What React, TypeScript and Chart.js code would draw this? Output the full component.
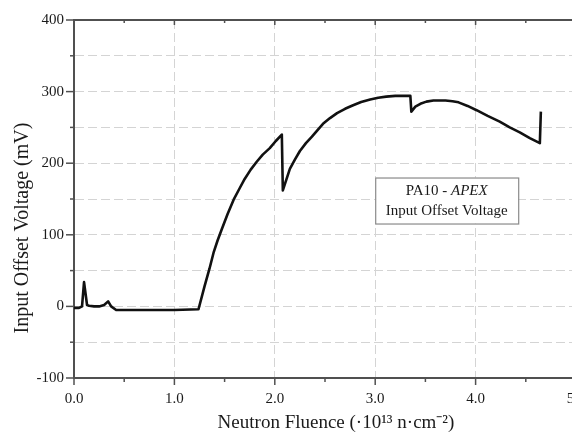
import React, { useEffect, useRef } from 'react';
import { Chart, registerables } from 'chart.js';

Chart.register(...registerables);

// ---- data ----
const fluence = [
  0.0, 0.05, 0.08, 0.1, 0.13, 0.15, 0.2, 0.25, 0.3, 0.34, 0.37, 0.42, 0.6, 0.8, 1.0, 1.24,
  1.3, 1.35, 1.39, 1.43, 1.47, 1.53, 1.59, 1.65, 1.7, 1.76, 1.82, 1.88, 1.95, 2.01, 2.07,
  2.08, 2.15, 2.2, 2.25, 2.31, 2.37, 2.43, 2.48, 2.55, 2.62, 2.7, 2.78, 2.86, 2.95, 3.03,
  3.11, 3.2, 3.35, 3.36, 3.4, 3.45, 3.51, 3.58, 3.7, 3.77, 3.83, 3.92, 4.01, 4.12, 4.24,
  4.34, 4.44, 4.54, 4.64, 4.65,
];
const offsetVoltage = [
  -2, -2, 0, 34, 2, 1, 0, 0, 2, 7, 0, -5, -5, -5, -5, -4,
  28, 53, 75, 92, 107, 129, 149, 165, 178, 191, 202, 212, 221, 231, 240,
  162, 192, 205, 217, 228, 237, 247, 255, 263, 270, 276, 281, 285.5, 289, 291.5,
  293, 294, 294, 272, 279, 283, 286, 287.5, 287.5, 286.5, 285, 280, 274, 266, 258,
  250, 243, 235, 228, 272,
];
const xMin = 0;
const xMax = 5;
const xStep = 1;
const yMin = -100;
const yMax = 400;
const yStep = 50;
const yLabelStep = 100;
const xTitle = 'Neutron Fluence (·10¹³ n·cm⁻²)';
const yTitle = 'Input Offset Voltage (mV)';
const boxTextA = 'PA10 - ';
const boxTextB = 'APEX';
const boxText2 = 'Input Offset Voltage';

const SERIF = "'Liberation Serif', 'Times New Roman', serif";
const AXIS_COLOR = '#505050';
const GRID_COLOR = '#d4d4d4';
const TEXT_COLOR = '#1a1a1a';

const decorPlugin = {
  id: 'decor',
  afterDatasetsDraw(chart: any) {
    const { ctx, chartArea: a, scales } = chart;
    const xs = scales.x;
    const ys = scales.y;
    const line = (x1: number, y1: number, x2: number, y2: number) => {
      ctx.beginPath();
      ctx.moveTo(x1, y1);
      ctx.lineTo(x2, y2);
      ctx.stroke();
    };
    ctx.save();
    ctx.strokeStyle = AXIS_COLOR;
    // top frame line
    ctx.lineWidth = 2;
    line(a.left - 1, a.top, a.right + 20, a.top);
    // x ticks (bottom outward, top inward) incl. minor midpoints
    ctx.lineWidth = 1.5;
    const xt = xs.ticks.map((t: any) => t.value);
    xt.forEach((v: number, i: number) => {
      const px = xs.getPixelForValue(v);
      line(px, a.bottom, px, a.bottom + 7);
      line(px, a.top, px, a.top + 5);
      if (i < xt.length - 1) {
        const pm = xs.getPixelForValue((v + xt[i + 1]) / 2);
        line(pm, a.bottom, pm, a.bottom + 4);
        line(pm, a.top, pm, a.top + 3);
      }
    });
    // y ticks (left outward)
    ys.ticks.forEach((t: any) => {
      const py = ys.getPixelForValue(t.value);
      const major = t.value % yLabelStep === 0;
      line(a.left - (major ? 8 : 4), py, a.left, py);
    });

    // annotation box
    const bl = xs.getPixelForValue(3.0);
    const bt = ys.getPixelForValue(180);
    const bw = 143;
    const bh = 46;
    ctx.fillStyle = '#ffffff';
    ctx.fillRect(bl, bt, bw, bh);
    ctx.strokeStyle = '#8a8a8a';
    ctx.lineWidth = 1.2;
    ctx.strokeRect(bl + 0.5, bt + 0.5, bw, bh);
    ctx.fillStyle = TEXT_COLOR;
    ctx.textBaseline = 'middle';
    ctx.textAlign = 'left';
    const fReg = `15px ${SERIF}`;
    const fIt = `italic 15px ${SERIF}`;
    ctx.font = fReg;
    const wA = ctx.measureText(boxTextA).width;
    ctx.font = fIt;
    const wB = ctx.measureText(boxTextB).width;
    const cx = bl + bw / 2;
    const sx = cx - (wA + wB) / 2;
    ctx.font = fReg;
    ctx.fillText(boxTextA, sx, bt + 14);
    ctx.font = fIt;
    ctx.fillText(boxTextB, sx + wA, bt + 14);
    ctx.font = fReg;
    ctx.textAlign = 'center';
    ctx.fillText(boxText2, cx, bt + 34);

    // axis titles
    ctx.font = `19px ${SERIF}`;
    ctx.textAlign = 'center';
    ctx.textBaseline = 'middle';
    ctx.fillText(xTitle, (a.left + a.right) / 2 + 11, a.bottom + 45);
    ctx.save();
    ctx.translate(a.left - 51, (a.top + a.bottom) / 2 + 29);
    ctx.rotate(-Math.PI / 2);
    ctx.font = `20px ${SERIF}`;
    ctx.fillText(yTitle, 0, 0);
    ctx.restore();
    ctx.restore();
  },
};

export default function App() {
  const ref = useRef<HTMLCanvasElement | null>(null);
  useEffect(() => {
    if (!ref.current) return;
    const points = fluence.map((x, i) => ({ x, y: offsetVoltage[i] }));
    const chart = new Chart(ref.current, {
      type: 'line',
      data: {
        datasets: [
          {
            label: 'PA10 - APEX Input Offset Voltage',
            data: points,
            borderColor: '#111111',
            borderWidth: 2.6,
            pointRadius: 0,
            tension: 0,
            borderJoinStyle: 'round',
            fill: false,
          },
        ],
      },
      options: {
        animation: false,
        responsive: false,
        devicePixelRatio: 1,
        layout: { padding: { top: 20, right: 24, bottom: 0, left: 0 } },
        plugins: { legend: { display: false }, tooltip: { enabled: false } },
        scales: {
          x: {
            type: 'linear',
            min: xMin,
            max: xMax,
            afterFit: (s: any) => {
              s.height = 54;
            },
            ticks: {
              stepSize: xStep,
              color: TEXT_COLOR,
              font: { family: SERIF, size: 15 },
              padding: 12,
              maxRotation: 0,
              callback: (v: any) => Number(v).toFixed(1),
            },
            grid: {
              drawTicks: false,
              lineWidth: 1,
              color: (c: any) => (c.tick && c.tick.value === xMin ? 'rgba(0,0,0,0)' : GRID_COLOR),
            },
            border: { display: true, color: AXIS_COLOR, width: 2, dash: [9, 4] },
            title: { display: false, text: xTitle },
          },
          y: {
            type: 'linear',
            min: yMin,
            max: yMax,
            afterFit: (s: any) => {
              s.width = 74;
            },
            ticks: {
              stepSize: yStep,
              color: TEXT_COLOR,
              font: { family: SERIF, size: 15 },
              padding: 10,
              callback: (v: any) => (Number(v) % yLabelStep === 0 ? String(v) : ''),
            },
            grid: {
              drawTicks: false,
              lineWidth: 1,
              color: (c: any) =>
                c.tick && (c.tick.value === yMin || c.tick.value === yMax) ? 'rgba(0,0,0,0)' : GRID_COLOR,
            },
            border: { display: true, color: AXIS_COLOR, width: 2, dash: [9, 4] },
            title: { display: false, text: yTitle },
          },
        },
      },
      plugins: [decorPlugin],
    });
    return () => chart.destroy();
  }, []);

  return (
    <div
      style={{
        position: 'fixed',
        left: 0,
        top: 0,
        width: 572,
        height: 432,
        overflow: 'hidden',
        background: '#ffffff',
      }}
    >
      <canvas ref={ref} width={600} height={432} style={{ display: 'block' }} />
    </div>
  );
}
